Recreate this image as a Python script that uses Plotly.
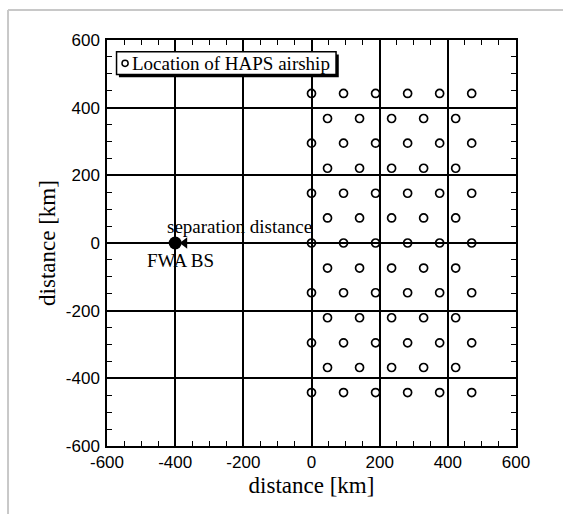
import plotly.graph_objects as go

# HAPS airship locations (km), hexagonal layout
even_row_y = [442, 295, 147, 0, -147, -295, -442]
odd_row_y = [368, 221, 74, -74, -221, -368]
even_row_x = [0, 94, 188, 282, 376, 470]
odd_row_x = [47, 141, 235, 329, 423]

haps_x = [x for y in even_row_y for x in even_row_x] + [x for y in odd_row_y for x in odd_row_x]
haps_y = [y for y in even_row_y for x in even_row_x] + [y for y in odd_row_y for x in odd_row_x]

# FWA base station
bs_x = [-400]
bs_y = [0]
arrow_x = [-372]
arrow_y = [0]

tick_vals = [-600, -400, -200, 0, 200, 400, 600]
tick_text = ["-600", "-400", "-200", "0", "200", "400", "600"]

SERIF = "Liberation Serif, Times New Roman, serif"
SANS = "Liberation Sans, Arial, sans-serif"

fig = go.Figure()
fig.add_trace(go.Scatter(
    x=haps_x, y=haps_y, mode="markers",
    marker=dict(symbol="circle-open", size=8, color="black", line=dict(width=1.7, color="black")),
    showlegend=False, hoverinfo="skip"))
fig.add_trace(go.Scatter(
    x=bs_x, y=bs_y, mode="markers",
    marker=dict(symbol="circle", size=13, color="black"),
    showlegend=False, hoverinfo="skip"))
fig.add_trace(go.Scatter(
    x=arrow_x, y=arrow_y, mode="markers",
    marker=dict(symbol="triangle-left", size=10, color="black"),
    showlegend=False, hoverinfo="skip"))

axis_common = dict(
    range=[-600, 600], tickmode="array", tickvals=tick_vals, ticktext=tick_text,
    showgrid=True, gridcolor="black", gridwidth=1.5,
    zeroline=True, zerolinecolor="black", zerolinewidth=1.5,
    showline=True, linecolor="black", linewidth=1.5, mirror="allticks",
    ticks="inside", ticklen=5, tickcolor="black", tickwidth=1.2,
    minor=dict(dtick=50, tick0=0, ticks="inside", ticklen=5, tickcolor="black", tickwidth=1.2, showgrid=False),
    tickfont=dict(family=SANS, size=17, color="black"),
    fixedrange=True,
)

fig.update_layout(
    width=563, height=514,
    margin=dict(l=107, r=47, t=40, b=68),
    paper_bgcolor="white", plot_bgcolor="white",
    xaxis=dict(**axis_common, ticklabelstandoff=0,
               title=dict(text="distance [km]", font=dict(family=SERIF, size=23, color="black"), standoff=6)),
    yaxis=dict(**axis_common, ticklabelstandoff=2,
               title=dict(text="distance [km]", font=dict(family=SERIF, size=23, color="black"), standoff=4)),
    showlegend=False,
)

# Legend box with shadow
fig.add_shape(type="rect", xref="x", yref="y", x0=-565, x1=80, y0=490, y1=557,
              fillcolor="black", line=dict(width=0), layer="above")
fig.add_shape(type="rect", xref="x", yref="y", x0=-572, x1=72, y0=498, y1=565,
              fillcolor="white", line=dict(width=1.5, color="black"), layer="above")
fig.add_shape(type="circle", xref="x", yref="y", x0=-556, x1=-538, y0=522, y1=540,
              line=dict(width=1.5, color="black"), fillcolor="white", layer="above")
fig.add_annotation(x=-533, y=532, xref="x", yref="y", text="Location of HAPS airship",
                   showarrow=False, xanchor="left", yanchor="middle",
                   font=dict(family=SERIF, size=19, color="black"))

fig.add_annotation(x=-212, y=48, xref="x", yref="y", text="separation distance",
                   showarrow=False, xanchor="center", yanchor="middle",
                   font=dict(family=SERIF, size=19, color="black"))
fig.add_annotation(x=-385, y=-52, xref="x", yref="y", text="FWA BS",
                   showarrow=False, xanchor="center", yanchor="middle",
                   font=dict(family=SERIF, size=19, color="black"))

# Light gray frame of the scanned page
fig.add_shape(type="line", xref="paper", yref="paper", x0=-0.242, x1=1.15, y0=1.074, y1=1.074,
              line=dict(color="#c8c8c8", width=2))
fig.add_shape(type="line", xref="paper", yref="paper", x0=-0.242, x1=-0.242, y0=1.074, y1=-0.2,
              line=dict(color="#c8c8c8", width=2))

fig.write_html("out.html")
